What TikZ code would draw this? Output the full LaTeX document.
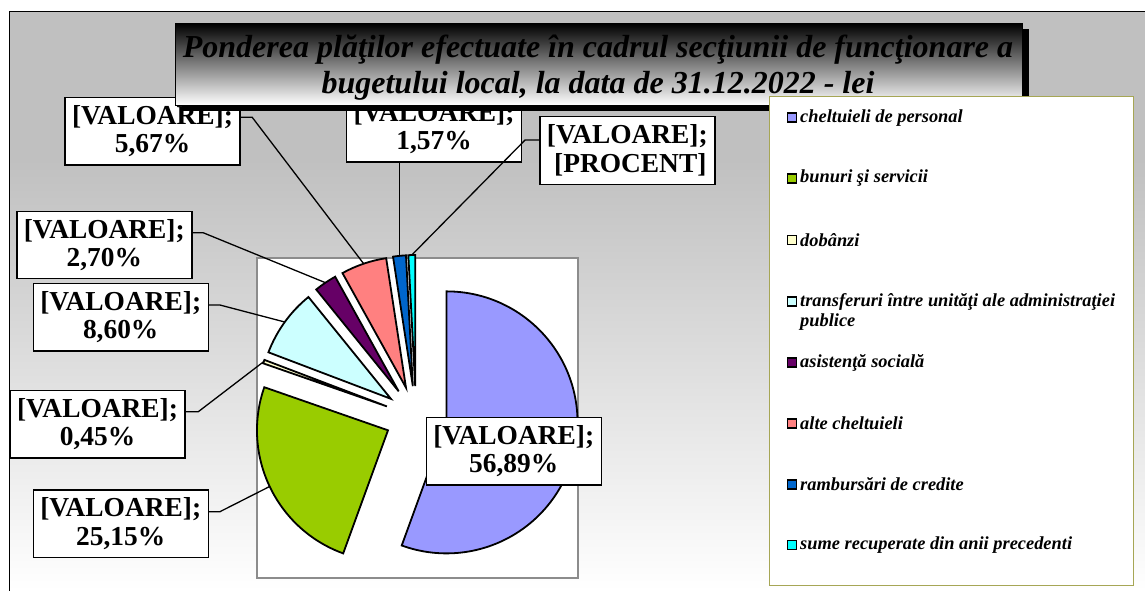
\documentclass[tikz,border=0pt]{standalone}
\usepackage{fontspec}
\setmainfont{Liberation Serif}
\usetikzlibrary{calc,shadows}
\definecolor{bggray}{HTML}{C0C0C0}
\definecolor{plotborder}{HTML}{8C8C8C}
\definecolor{legborder}{HTML}{A6A655}
\definecolor{cpers}{HTML}{9999FF}
\definecolor{cbun}{HTML}{99CC00}
\definecolor{cdob}{HTML}{FFFFCC}
\definecolor{ctransf}{HTML}{CCFFFF}
\definecolor{casist}{HTML}{660066}
\definecolor{calte}{HTML}{FF8080}
\definecolor{cramb}{HTML}{0066CC}
\definecolor{csume}{HTML}{00FFFF}
\newcommand\pieslice[3]{%
  \pgfmathsetmacro\slicemid{(#1+#2)/2}%
  \draw[slice, fill=#3] ($(C)+(\slicemid:31)$) -- ++(#1:131)
    arc[start angle=#1, end angle=#2, radius=131] -- cycle;}
\begin{document}
\begin{tikzpicture}[x=1pt,y=1pt,
  slice/.style={draw=black, line width=1.8pt},
  lbl/.style={draw=black, line width=1.4pt, fill=white, align=center,
    font=\fontsize{27.4}{28.5}\selectfont\bfseries,
    minimum width=175pt, minimum height=67.5pt, inner sep=0pt},
  leader/.style={draw=black, line width=1.3pt},
  legsq/.style={draw=black, line width=1.6pt, minimum size=9pt, inner sep=0pt},
  legtxt/.style={anchor=west, font=\fontsize{18.4}{20.6}\selectfont\bfseries\itshape,
    inner sep=0pt, align=left},
  titlebox/.style={draw=black, line width=0.8pt, top color=black, bottom color=white,
    minimum width=847pt, minimum height=81.7pt, inner sep=0pt,
    drop shadow={shadow xshift=6pt, shadow yshift=-5.7pt, fill=black, opacity=1}},
  titletxt/.style={align=center, inner sep=0pt,
    font=\fontsize{32}{36.6}\selectfont\bfseries\itshape}
]
\useasboundingbox (0,0) rectangle (1145,-591);
% background frame
\fill[bggray] (9.3,-11.7) rectangle (1145,-160);
\shade[top color=bggray, bottom color=white] (9.3,-159.5) rectangle (1145,-591);
\draw[line width=1.3pt] (9.3,-591) -- (9.3,-11.7) -- (1145,-11.7);
% plot area
\node[draw=plotborder, line width=2.2pt, fill=white, minimum width=321pt,
  minimum height=320pt, inner sep=0pt] (plot) at (417.2,-417.7) {};
% pie
\coordinate (C) at (416,-417);
\pieslice{90}{-110}{cpers}
\pieslice{250}{160.8}{cbun}
\pieslice{160.8}{159.2}{cdob}
\pieslice{159.2}{129}{ctransf}
\pieslice{129}{119}{casist}
\pieslice{119}{98.7}{calte}
\pieslice{98.7}{93}{cramb}
\pieslice{93}{90}{csume}
\coordinate (pgreen) at ($(C)+(205.4:162)$);
\coordinate (pdob) at ($(C)+(160:162)$);
\coordinate (ptransf) at ($(C)+(144.1:162)$);
\coordinate (pasist) at ($(C)+(124:162)$);
\coordinate (palte) at ($(C)+(108.85:162)$);
\coordinate (pramb) at ($(C)+(95.85:162)$);
\coordinate (psume) at ($(C)+(91.5:162)$);
% data labels
\node[lbl] (l567) at (152.5,-131.2) {[VALOARE];\\5,67\%};
\node[lbl] (l157) at (434,-128.2) {[VALOARE];\\1,57\%};
\node[lbl] (lproc) at (627.3,-150.5) {[VALOARE];\\\hspace*{6pt}[PROCENT]};
\node[lbl] (l270) at (104.3,-245) {[VALOARE];\\2,70\%};
\node[lbl] (l860) at (120.7,-317.3) {[VALOARE];\\8,60\%};
\node[lbl] (l045) at (97.5,-424.2) {[VALOARE];\\0,45\%};
\node[lbl] (l2515) at (120.7,-523.7) {[VALOARE];\\25,15\%};
\node[lbl] (l5689) at (513.7,-451.2) {[VALOARE];\\56,89\%};
% leader lines
\draw[leader] ($(l567.east)+(0,13.9)$) -- ++(11.5,0) -- (palte);
\draw[leader] (pramb |- l157.south) -- (pramb);
\draw[leader] ($(lproc.west)+(0,10.5)$) -- ++(-14,0) -- (psume);
\draw[leader] ($(l270.east)+(0,12.3)$) -- ++(10.6,0) -- (pasist);
\draw[leader] ($(l860.east)+(0,12.3)$) -- ++(11,0) -- (ptransf);
\draw[leader] ($(l045.east)+(0,12.5)$) -- ++(12.6,0) -- (pdob);
\draw[leader] ($(l2515.east)+(0,12)$) -- ++(11,0) -- (pgreen);
% title
\node[titlebox] (title) at (599.2,-64.2) {};
\node[titletxt] (titletext) at (598,-67.5) {Ponderea plăţilor efectuate în cadrul secţiunii de funcţionare a\\bugetului local, la data de 31.12.2022 - lei};
% legend
\node[draw=legborder, line width=1.5pt, fill=white, minimum width=364pt,
  minimum height=489pt, inner sep=0pt] (legend) at (951.3,-341.2) {};
\node[legsq, fill=cpers] (sq1) at (792,-117.3) {};
\node[legtxt] (t1) at (800,-117.7) {cheltuieli de personal};
\node[legsq, fill=cbun] (sq2) at (792,-178.3) {};
\node[legtxt] (t2) at (800,-178.3) {bunuri şi servicii};
\node[legsq, fill=cdob] (sq3) at (792,-240) {};
\node[legtxt] (t3) at (800,-240) {dobânzi};
\node[legsq, fill=ctransf] (sq4) at (792,-301.7) {};
\node[legtxt] (t4) at (800,-311.9) {transferuri între unităţi ale administraţiei\\publice};
\node[legsq, fill=casist] (sq5) at (792,-362.7) {};
\node[legtxt] (t5) at (800,-362.7) {asistenţă socială};
\node[legsq, fill=calte] (sq6) at (792,-423.3) {};
\node[legtxt] (t6) at (800,-423.3) {alte cheltuieli};
\node[legsq, fill=cramb] (sq7) at (792,-484.3) {};
\node[legtxt] (t7) at (800,-484.3) {rambursări de credite};
\node[legsq, fill=csume] (sq8) at (792,-545) {};
\node[legtxt] (t8) at (800,-545) {sume recuperate din anii precedenti};
\end{tikzpicture}
\end{document}
